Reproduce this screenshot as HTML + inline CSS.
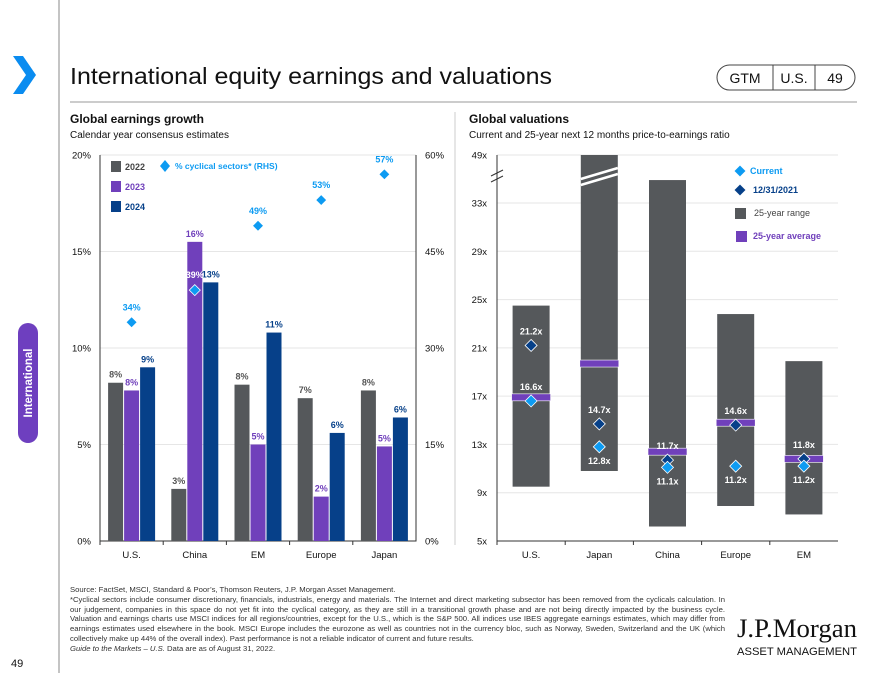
<!DOCTYPE html>
<html><head><meta charset="utf-8">
<style>
html,body{margin:0;padding:0;background:#fff;}
body{width:871px;height:673px;position:relative;overflow:hidden;font-family:"Liberation Sans",Arial,sans-serif;}
#foot{position:absolute;left:70px;top:585px;width:655px;font-size:7.7px;line-height:9.75px;color:#333;text-align:justify;}
</style></head>
<body>
<svg id="page" width="871" height="673" style="position:absolute;left:0;top:0" font-family="Liberation Sans, Arial, sans-serif">
  <line x1="59" y1="0" x2="59" y2="673" stroke="#888" stroke-width="1"/>
  <polygon points="13,56 23,56 36,75 23,94 13,94 26,75" fill="#0a8cf0"/>
  <text x="70" y="84" font-size="23" fill="#111" textLength="482" lengthAdjust="spacingAndGlyphs">International equity earnings and valuations</text>
  <g>
    <rect x="717" y="65" width="138" height="25" rx="12.5" fill="#fff" stroke="#444"/>
    <line x1="773" y1="65" x2="773" y2="90" stroke="#444"/>
    <line x1="815" y1="65" x2="815" y2="90" stroke="#444"/>
    <text x="745" y="83" font-size="14" text-anchor="middle" fill="#111">GTM</text>
    <text x="794" y="83" font-size="14" text-anchor="middle" fill="#111">U.S.</text>
    <text x="835" y="83" font-size="14" text-anchor="middle" fill="#111">49</text>
  </g>
  <line x1="70" y1="102" x2="857" y2="102" stroke="#bbb" stroke-width="1.5"/>
  <line x1="455" y1="112" x2="455" y2="545" stroke="#ccc"/>
  <text x="70" y="123" font-size="12" font-weight="bold" fill="#111">Global earnings growth</text>
  <text x="70" y="138" font-size="10" fill="#111">Calendar year consensus estimates</text>
  <text x="469" y="123" font-size="12" font-weight="bold" fill="#111">Global valuations</text>
  <text x="469" y="138" font-size="10" fill="#111">Current and 25-year next 12 months price-to-earnings ratio</text>
  <g>
    <rect x="18" y="323" width="20" height="120" rx="10" fill="#6e3fbf"/>
    <text transform="translate(32,383) rotate(-90)" font-size="11.5" font-weight="bold" fill="#fff" text-anchor="middle">International</text>
  </g>
  <g id="left"></g>
  <g id="right"></g>
  <text x="11" y="667" font-size="11" fill="#111">49</text>
  <text x="797" y="637" font-size="26" font-family="Liberation Serif, serif" text-anchor="middle" fill="#111" textLength="120" lengthAdjust="spacingAndGlyphs">J.P.Morgan</text>
  <text x="797" y="655" font-size="11" text-anchor="middle" fill="#111" textLength="120" lengthAdjust="spacingAndGlyphs">ASSET MANAGEMENT</text>
</svg>
<div id="foot">Source: FactSet, MSCI, Standard &amp; Poor’s, Thomson Reuters, J.P. Morgan Asset Management.<br>*Cyclical sectors include consumer discretionary, financials, industrials, energy and materials. The Internet and direct marketing subsector has been removed from the cyclicals calculation. In our judgement, companies in this space do not yet fit into the cyclical category, as they are still in a transitional growth phase and are not being directly impacted by the business cycle. Valuation and earnings charts use MSCI indices for all regions/countries, except for the U.S., which is the S&amp;P 500. All indices use IBES aggregate earnings estimates, which may differ from earnings estimates used elsewhere in the book. MSCI Europe includes the eurozone as well as countries not in the currency bloc, such as Norway, Sweden, Switzerland and the UK (which collectively make up 44% of the overall index). Past performance is not a reliable indicator of current and future results.<br><i>Guide to the Markets – U.S.</i> Data are as of August 31, 2022.</div>
<script>
// ---- Left chart data ----
const egCategories = ["U.S.", "China", "EM", "Europe", "Japan"];
const eg2022 = [8.2, 2.7, 8.1, 7.4, 7.8];
const eg2023 = [7.8, 15.5, 5.0, 2.3, 4.9];
const eg2024 = [9.0, 13.4, 10.8, 5.6, 6.4];
const eg2022Labels = ["8%", "3%", "8%", "7%", "8%"];
const eg2023Labels = ["8%", "16%", "5%", "2%", "5%"];
const eg2024Labels = ["9%", "13%", "11%", "6%", "6%"];
const cyclical = [34, 39, 49, 53, 57];
const egLeftTicks = [0, 5, 10, 15, 20];
const egRightTicks = [0, 15, 30, 45, 60];
// ---- Right chart data ----
const pvCategories = ["U.S.", "Japan", "China", "Europe", "EM"];
const pvRangeLow = [9.5, 10.8, 6.2, 7.9, 7.2];
const pvRangeHigh = [24.5, 60, 34.9, 23.8, 19.9];
const pvAverage = [16.9, 19.7, 12.4, 14.8, 11.8];
const pvCurrent = [16.6, 12.8, 11.1, 11.2, 11.2];
const pvDec2021 = [21.2, 14.7, 11.7, 14.6, 11.8];
const pvTicks = [5, 9, 13, 17, 21, 25, 29, 33];
const pvTopLabel = "49x";

const NS = "http://www.w3.org/2000/svg";
function mk(parent, tag, attrs, text) {
  const e = document.createElementNS(NS, tag);
  for (const k in attrs) e.setAttribute(k, attrs[k]);
  if (text !== undefined) e.textContent = text;
  parent.appendChild(e);
  return e;
}
const GREY = "#55585b", PURPLE = "#7040bb", NAVY = "#064089", CYAN = "#0d9bf2";

// ===== Left chart =====
(function () {
  const g = document.getElementById("left");
  const x0 = 100, x1 = 416, yTop = 155, yBot = 541;
  const yL = v => yBot - (v / 20) * (yBot - yTop);
  const yR = v => yBot - (v / 60) * (yBot - yTop);
  const band = (x1 - x0) / egCategories.length;
  const cx = i => x0 + band * (i + 0.5);
  egLeftTicks.forEach((t, i) => {
    if (t > 0) {
      const gl = mk(g, "line", {x1: x0, x2: x1, y1: yL(t), y2: yL(t), stroke: "#e6e6e6"});
      
      
    }
    const tl = mk(g, "text", {x: 91, y: yL(t) + 3.5, "font-size": 9.5, "text-anchor": "end", fill: "#111"}, t + "%");
    
    
  });
  egRightTicks.forEach(t => {
    const tl = mk(g, "text", {x: 425, y: yR(t) + 3.5, "font-size": 9.5, fill: "#111"}, t + "%");
    
    
  });
  const ax = mk(g, "path", {d: `M${x0},${yTop}V${yBot}H${x1}V${yTop}`, fill: "none", stroke: "#333"});
  
  
  const series = [[eg2022, eg2022Labels, GREY, "#555"], [eg2023, eg2023Labels, PURPLE, PURPLE], [eg2024, eg2024Labels, NAVY, NAVY]];
  const bw = 15, gap = 1;
  egCategories.forEach((c, i) => {
    const tk = mk(g, "line", {x1: x0 + band * i, x2: x0 + band * i, y1: yBot, y2: yBot + 4, stroke: "#333"});
    
    
    const cl = mk(g, "text", {x: cx(i), y: 558, "font-size": 9.5, "text-anchor": "middle", fill: "#111"}, c);
    
    
    series.forEach((s, k) => {
      const bx = cx(i) + (k - 1) * (bw + gap) - bw / 2;
      const r = mk(g, "rect", {x: bx, y: yL(s[0][i]), width: bw, height: yBot - yL(s[0][i]), fill: s[2]});
      
      
      const lb = mk(g, "text", {x: bx + bw / 2, y: yL(s[0][i]) - 5, "font-size": 9, "font-weight": "bold", "text-anchor": "middle", fill: s[3]}, s[1][i]);
      
      
    });
    const y = yR(cyclical[i]);
    const d = mk(g, "polygon", {points: `${cx(i)},${y - 5.5} ${cx(i) + 5.5},${y} ${cx(i)},${y + 5.5} ${cx(i) - 5.5},${y}`, fill: CYAN, stroke: "#fff", "stroke-width": 0.8});
    
    
    const dl = mk(g, "text", {x: cx(i), y: y - 12, "font-size": 9, "font-weight": "bold", "text-anchor": "middle", fill: i === 1 ? "#fff" : CYAN}, cyclical[i] + "%");
    
    
  });
  // legend
  const leg = [["2022", GREY, "#444"], ["2023", PURPLE, PURPLE], ["2024", NAVY, NAVY]];
  leg.forEach((l, k) => {
    const y = 166 + k * 20;
    const s = mk(g, "rect", {x: 111, y: y - 5, width: 10, height: 11, fill: l[1]});
    
    
    const t = mk(g, "text", {x: 125, y: y + 4, "font-size": 9, "font-weight": "bold", fill: l[2]}, l[0]);
    
    
  });
  const ld = mk(g, "polygon", {points: "165,160 170,166 165,172 160,166", fill: CYAN});
  
  
  const lt = mk(g, "text", {x: 175, y: 169, "font-size": 8.5, "font-weight": "bold", fill: CYAN}, "% cyclical sectors* (RHS)");
  
  
})();

// ===== Right chart =====
(function () {
  const g = document.getElementById("right");
  const x0 = 497, x1 = 838, yTop = 155, yBot = 541;
  const per = (yBot - 203) / (33 - 5);
  const y = v => Math.max(yTop, yBot - (v - 5) * per);
  const band = (x1 - x0) / pvCategories.length;
  const cx = i => x0 + band * (i + 0.5);
  pvTicks.forEach(t => {
    if (t > 5) {
      const gl = mk(g, "line", {x1: x0, x2: x1, y1: y(t), y2: y(t), stroke: "#e6e6e6"});
      
      
    }
    const tl = mk(g, "text", {x: 487, y: y(t) + 3.5, "font-size": 9.5, "text-anchor": "end", fill: "#111"}, t + "x");
    
    
  });
  const tg = mk(g, "line", {x1: x0, x2: x1, y1: yTop, y2: yTop, stroke: "#e6e6e6"});
  
  
  const tt = mk(g, "text", {x: 487, y: yTop + 3.5, "font-size": 9.5, "text-anchor": "end", fill: "#111"}, pvTopLabel);
  
  
  const ax = mk(g, "path", {d: `M${x0},${yTop}V${yBot}H${x1}`, fill: "none", stroke: "#333"});
  
  
  const br = mk(g, "path", {d: "M491,176 L503,170 M491,182 L503,176", stroke: "#333", fill: "none"});
  
  
  const bw = 37;
  const dia = (xc, yc, fill, name) => {
    const d = mk(g, "polygon", {points: `${xc},${yc - 6} ${xc + 6},${yc} ${xc},${yc + 6} ${xc - 6},${yc}`, fill: fill, stroke: "#fff", "stroke-width": 0.8});
    
    
  };
  pvCategories.forEach((c, i) => {
    const key = c.toLowerCase().replace(/\./g, '');
    const tk = mk(g, "line", {x1: x0 + band * i, x2: x0 + band * i, y1: yBot, y2: yBot + 4, stroke: "#333"});
    
    
    const cl = mk(g, "text", {x: cx(i), y: 558, "font-size": 9.5, "text-anchor": "middle", fill: "#111"}, c);
    
    
    const top = y(pvRangeHigh[i]);
    const r = mk(g, "rect", {x: cx(i) - bw / 2, y: top, width: bw, height: y(pvRangeLow[i]) - top, fill: GREY});
    
    
    if (pvRangeHigh[i] > 37) {
      const bk = mk(g, "path", {d: `M${cx(i) - bw / 2},${top + 24} L${cx(i) + bw / 2},${top + 13} M${cx(i) - bw / 2},${top + 30} L${cx(i) + bw / 2},${top + 19}`, stroke: "#fff", "stroke-width": 2.5});
      
      
    }
    const a = mk(g, "rect", {x: cx(i) - bw / 2 - 1, y: y(pvAverage[i]) - 3.5, width: bw + 2, height: 7, fill: PURPLE, stroke: "#fff", "stroke-width": 0.6});
    
    
    dia(cx(i), y(pvDec2021[i]), NAVY, 'dec2021-marker-' + key);
    dia(cx(i), y(pvCurrent[i]), CYAN, 'current-marker-' + key);
    const upper = Math.max(pvDec2021[i], pvCurrent[i]);
    const lower = Math.min(pvDec2021[i], pvCurrent[i]);
    const l1 = mk(g, "text", {x: cx(i), y: y(upper) - 11, "font-size": 9, "font-weight": "bold", "text-anchor": "middle", fill: "#fff"}, upper.toFixed(1) + "x");
    
    
    const lowY = (i === 0) ? y(lower) - 11 : y(lower) + 17;
    const l2 = mk(g, "text", {x: cx(i), y: lowY, "font-size": 9, "font-weight": "bold", "text-anchor": "middle", fill: "#fff"}, lower.toFixed(1) + "x");
    
    
  });
  // legend
  dia(740, 171, CYAN, 'legend-current-marker');
  const t1 = mk(g, "text", {x: 750, y: 174, "font-size": 9, "font-weight": "bold", fill: CYAN}, "Current");
  
  
  dia(740, 190, NAVY, 'legend-dec2021-marker');
  const t2 = mk(g, "text", {x: 753, y: 193, "font-size": 9, "font-weight": "bold", fill: NAVY}, "12/31/2021");
  
  
  const s3 = mk(g, "rect", {x: 735, y: 208, width: 11, height: 11, fill: GREY});
  
  
  const t3 = mk(g, "text", {x: 754, y: 216, "font-size": 9, fill: "#444"}, "25-year range");
  
  
  const s4 = mk(g, "rect", {x: 736, y: 231, width: 11, height: 11, fill: PURPLE});
  
  
  const t4 = mk(g, "text", {x: 753, y: 239, "font-size": 9, "font-weight": "bold", fill: PURPLE}, "25-year average");
  
  
})();
</script>
</body></html>
